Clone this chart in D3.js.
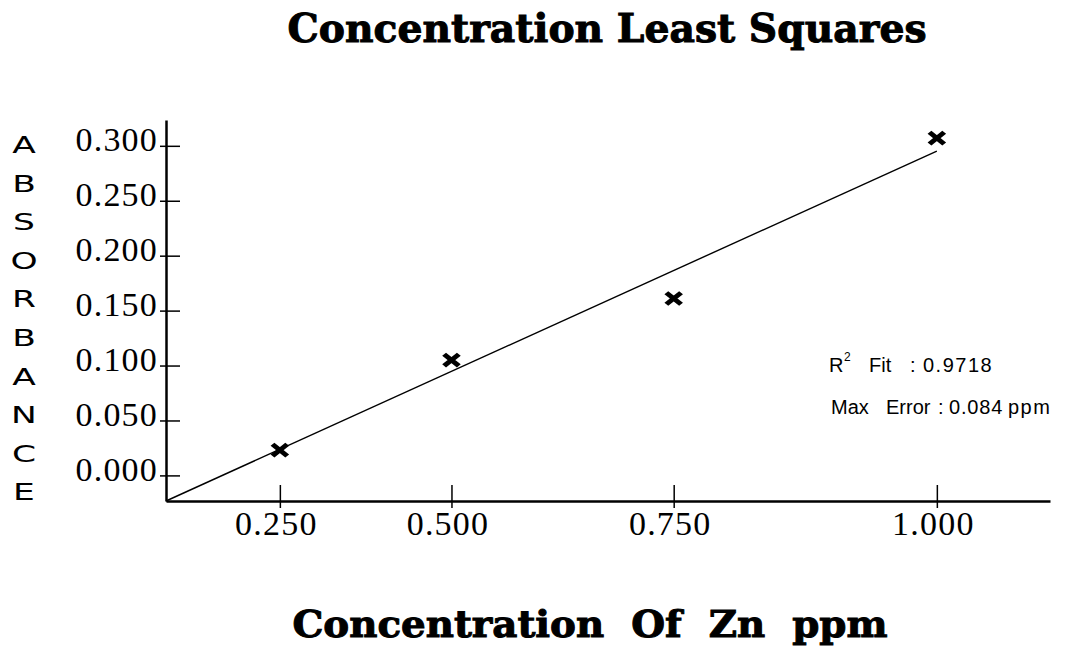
<!DOCTYPE html>
<html>
  <head>
    <title>Concentration Least Squares</title>
    <meta charset="utf-8">
    <script src="https://d3js.org/d3.v7.min.js"></script>
    <style>
    body {
      margin: 0;
      background: #fff;
    }
    .title {
      font-family: 'DejaVu Serif', serif;
      font-weight: bold;
      fill: #000;
      stroke: #000;
      stroke-width: 1px;
    }
    .tick text {
      font-family: 'Liberation Serif', 'Times New Roman', serif;
      font-size: 34px;
      letter-spacing: 1.2px;
      fill: #000;
    }
    .tick line {
      stroke: #000;
      stroke-width: 1.5px;
    }
    .domain {
      stroke: #000;
      stroke-width: 2.5px;
    }
    .ylabel {
      font-family: 'DejaVu Sans', sans-serif;
      font-size: 23px;
      fill: #000;
    }
    .note {
      font-family: 'Liberation Sans', Arial, sans-serif;
      font-size: 20px;
      fill: #000;
    }
    </style>
  </head>
  <body>
    <script>

      // data
      var concentration = [0.25, 0.5, 0.75, 1.0];
      var absorbance = [0.023, 0.105, 0.161, 0.307];
      var xTicks = [0.25, 0.5, 0.75, 1.0];
      var yTicks = [0, 0.05, 0.1, 0.15, 0.2, 0.25, 0.3];
      var yLetters = ["A", "B", "S", "O", "R", "B", "A", "N", "C", "E"];
      var r2Fit = "0.9718";
      var maxError = "0.084";

      // setup
      var w = 1075, h = 656;
      var margin = {top: 120, left: 166, right: 25, bottom: 155};

      var svg = d3.select("body").append("svg")
          .attr("width", w)
          .attr("height", h);

      // the printed concentration axis is stretched towards the right
      var xScale = d3.scalePow().exponent(1.5)
          .domain([-0.0892, 1.0981])
          .range([margin.left, w - margin.right]);
      var yScale = d3.scaleLinear()
          .domain([-0.0233, 0.3235])
          .range([h - margin.bottom, margin.top]);

      // titles
      svg.append("text")
          .attr("class", "title")
          .attr("x", 607).attr("y", 42)
          .attr("text-anchor", "middle")
          .attr("font-size", 39)
          .attr("textLength", 639)
          .attr("lengthAdjust", "spacingAndGlyphs")
          .text("Concentration Least Squares");

      svg.append("text")
          .attr("class", "title")
          .attr("x", 590).attr("y", 637)
          .attr("text-anchor", "middle")
          .attr("font-size", 37)
          .attr("textLength", 595)
          .attr("lengthAdjust", "spacingAndGlyphs")
          .attr("xml:space", "preserve")
          .text("Concentration  Of  Zn  ppm");

      // axes
      var xAxis = d3.axisBottom(xScale)
          .tickValues(xTicks)
          .tickFormat(d3.format(".3f"))
          .tickSizeOuter(0);
      var yAxis = d3.axisLeft(yScale)
          .tickValues(yTicks)
          .tickFormat(d3.format(".3f"))
          .tickSizeOuter(0);

      var gx = svg.append("g")
          .attr("transform", "translate(0," + yScale.range()[0] + ")")
          .call(xAxis);
      gx.select(".domain").attr("stroke-width", 3);
      gx.selectAll(".tick line").attr("y1", -16).attr("y2", 7);
      gx.selectAll(".tick text").attr("x", -4).attr("y", 10).attr("dy", "0.71em");

      var gy = svg.append("g")
          .attr("transform", "translate(" + xScale.range()[0] + ",0)")
          .call(yAxis);
      gy.selectAll(".tick line").attr("x1", -6).attr("x2", 14);
      gy.selectAll(".tick text").attr("x", -8).attr("dy", "0.15em");

      // vertical axis title, one letter per row
      svg.append("g").selectAll("text")
          .data(yLetters)
          .join("text")
          .attr("class", "ylabel")
          .attr("transform", (d, i) => "translate(24," + (153 + i * 38.6) + ") scale(1.5,1)")
          .attr("text-anchor", "middle")
          .text(d => d);

      // least squares line through the plotted points
      var px = concentration.map(d => xScale(d));
      var py = absorbance.map(d => yScale(d));
      var mx = d3.mean(px), my = d3.mean(py);
      var sxy = d3.sum(px, (p, i) => (p - mx) * (py[i] - my));
      var sxx = d3.sum(px, p => (p - mx) * (p - mx));
      var slope = sxy / sxx, intercept = my - slope * mx;
      var lx0 = xScale.range()[0], lx1 = d3.max(px);

      svg.append("line")
          .attr("x1", lx0).attr("y1", Math.min(intercept + slope * lx0, yScale.range()[0]))
          .attr("x2", lx1).attr("y2", intercept + slope * lx1)
          .attr("stroke", "#000")
          .attr("stroke-width", 1.4);

      // points
      svg.append("g").selectAll("path")
          .data(concentration)
          .join("path")
          .attr("transform", (d, i) => "translate(" + xScale(d) + "," + yScale(absorbance[i]) + ") scale(1.2,0.95)")
          .attr("d", d3.symbol(d3.symbolX, 100))
          .attr("fill", "none")
          .attr("stroke", "#000")
          .attr("stroke-width", 4.5);

      // fit notes
      var note1 = svg.append("text").attr("class", "note").attr("y", 372);
      note1.append("tspan").attr("x", 829).text("R");
      note1.append("tspan").attr("x", 844).attr("dy", -11).attr("font-size", 12).text("2");
      note1.append("tspan").attr("x", 869).attr("dy", 11).text("Fit");
      note1.append("tspan").attr("x", 910).text(":");
      note1.append("tspan").attr("x", 923).attr("letter-spacing", 1.5).text(r2Fit);

      var note2 = svg.append("text").attr("class", "note").attr("y", 414);
      note2.append("tspan").attr("x", 831).text("Max");
      note2.append("tspan").attr("x", 886).text("Error");
      note2.append("tspan").attr("x", 938).text(":");
      note2.append("tspan").attr("x", 949).attr("letter-spacing", 0.8).text(maxError);
      note2.append("tspan").attr("x", 1008).attr("letter-spacing", 1.5).text("ppm");

    </script>
  </body>
</html>
